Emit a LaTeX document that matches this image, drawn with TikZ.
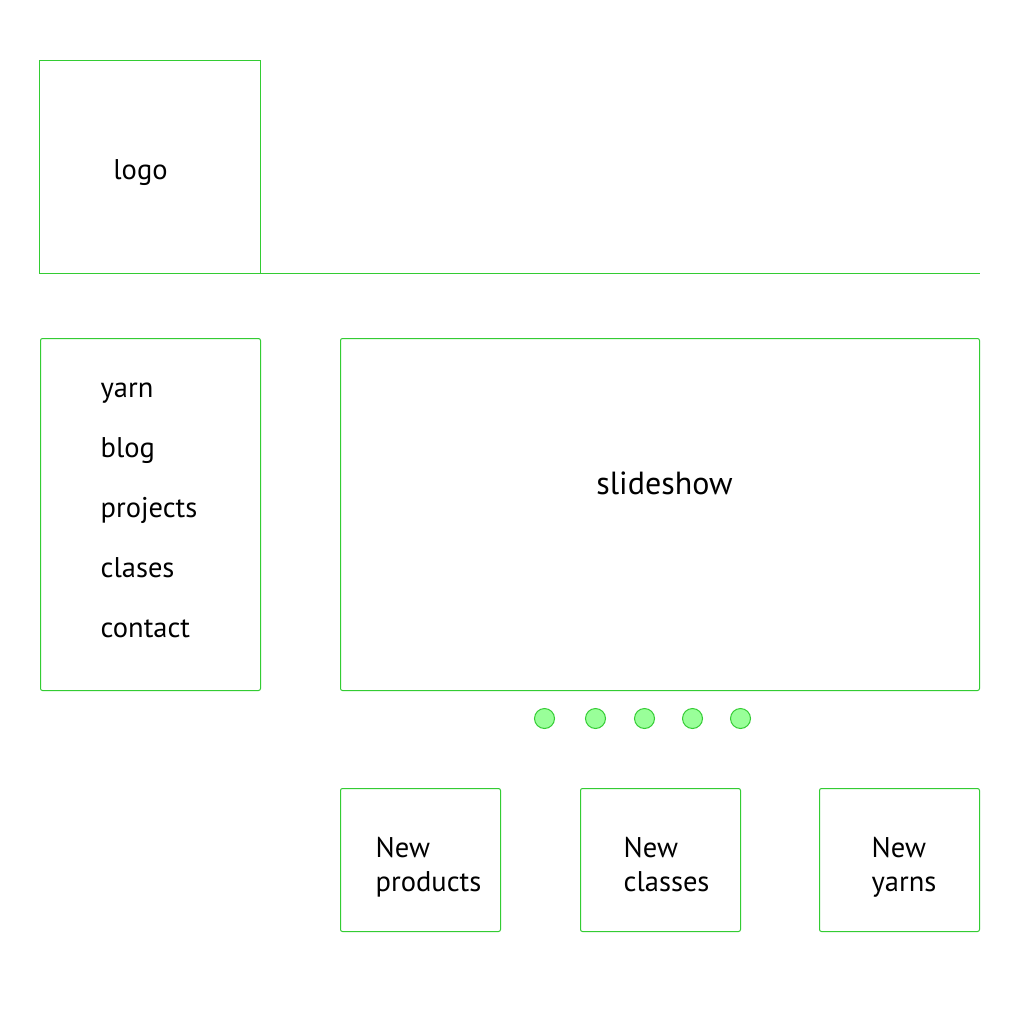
\documentclass[tikz,border=0pt]{standalone}
\usepackage{fontspec}
\setmainfont{PT Sans}
\definecolor{wfgreen}{HTML}{33CC33}
\definecolor{dotfill}{HTML}{99FF99}
\begin{document}
\begin{tikzpicture}[x=1pt,y=-1pt,
  frame/.style={draw=wfgreen,line width=1pt},
  rframe/.style={draw=wfgreen,line width=1pt,rounded corners=2pt},
  dot/.style={circle,draw=wfgreen,fill=dotfill,line width=1pt,minimum size=20pt,inner sep=0pt},
  lbl/.style={inner sep=0pt,anchor=base west,font=\fontsize{28.5}{32}\selectfont}]
\useasboundingbox (0,0) rectangle (1020,1020);
\fill[white] (0,0) rectangle (1020,1020);
\begin{scope}[shift={(0.5,0.5)}]
% header
\draw[frame] (39,60) rectangle (260,273);
\coordinate (hl) at (260,273);
\coordinate (hr) at (979,273);
\draw[frame] (hl) -- (hr);
\node[inner sep=0pt,anchor=base,font=\fontsize{28.5}{32}\selectfont] (logo) at (140,179) {logo};
% nav
\draw[rframe] (40,338) rectangle (260,690);
\node[lbl] (n1) at (100,397) {yarn};
\node[lbl] (n2) at (100,457) {blog};
\node[lbl] (n3) at (100,517) {projects};
\node[lbl] (n4) at (100,577) {clases};
\node[lbl] (n5) at (100,637) {contact};
% slideshow
\draw[rframe] (340,338) rectangle (979,690);
\node[inner sep=0pt,anchor=base,font=\fontsize{32}{36}\selectfont] (ss) at (664,494) {slideshow};
% dots
\node[dot] (d1) at (544,718) {};
\node[dot] (d2) at (595,718) {};
\node[dot] (d3) at (644,718) {};
\node[dot] (d4) at (692,718) {};
\node[dot] (d5) at (740,718) {};
% bottom boxes
\draw[rframe] (340,788) rectangle (500,931);
\draw[rframe] (580,788) rectangle (740,931);
\draw[rframe] (819,788) rectangle (979,931);
\node[lbl] (b1a) at (375,857) {New};
\node[lbl] (b1b) at (375,891) {products};
\node[lbl] (b2a) at (623,857) {New};
\node[lbl] (b2b) at (623,891) {classes};
\node[lbl] (b3a) at (871,857) {New};
\node[lbl] (b3b) at (871,891) {yarns};
\end{scope}
\end{tikzpicture}
\end{document}
